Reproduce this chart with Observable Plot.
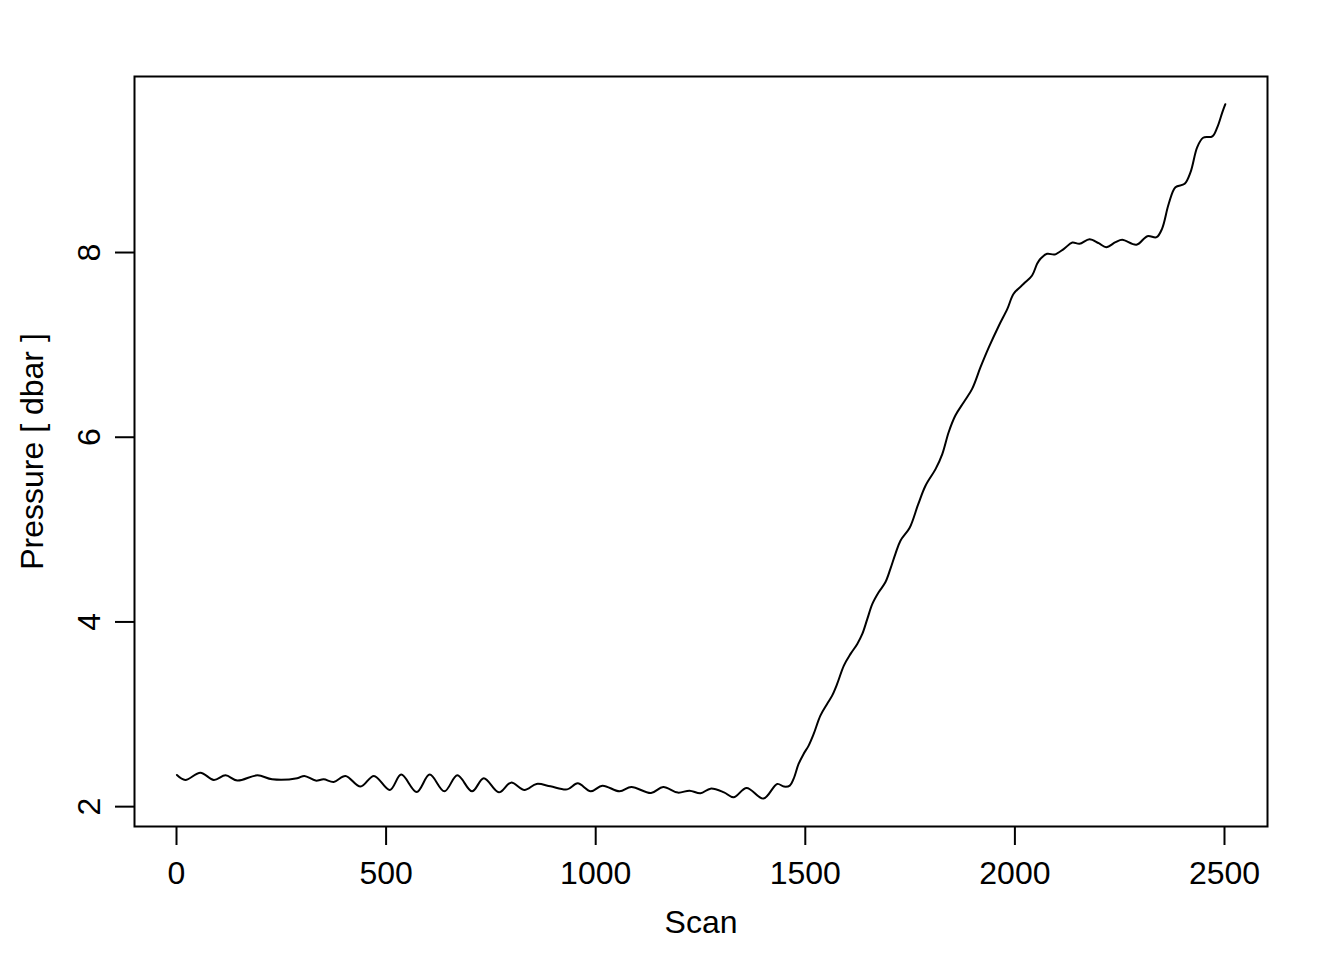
<!DOCTYPE html>
<html>
<head>
<meta charset="utf-8">
<script src="https://cdn.jsdelivr.net/npm/d3@7"></script>
<script src="https://cdn.jsdelivr.net/npm/@observablehq/plot@0.6"></script>
<style>
  html, body { margin: 0; padding: 0; background: #fff; }
</style>
</head>
<body>
<div id="chart"></div>
<script>
const scan = [1, 21, 57, 89, 117, 145, 193, 228, 288, 305, 332, 351, 375, 403, 439, 471, 509, 536, 573, 604, 639, 670, 705,
  733, 769, 798, 830, 859, 892, 932, 957, 988, 1016, 1057, 1085, 1132, 1161, 1196, 1224, 1250, 1274, 1306, 1329, 1360, 1400,
  1433, 1449, 1463, 1472, 1484, 1496, 1508, 1520, 1536, 1552, 1564, 1576, 1592, 1608, 1624, 1636, 1648, 1660, 1675, 1691,
  1703, 1715, 1727, 1749, 1769, 1787, 1811, 1827, 1842, 1858, 1878, 1898, 1918, 1938, 1962, 1982, 1997, 2021, 2041, 2053,
  2061, 2077, 2095, 2117, 2137, 2154, 2178, 2200, 2218, 2240, 2256, 2290, 2316, 2338, 2351, 2367, 2383, 2405, 2419, 2435,
  2449, 2471, 2483, 2495, 2502];
const pressure = [2.343, 2.289, 2.368, 2.289, 2.339, 2.282, 2.339, 2.296, 2.307, 2.333, 2.282, 2.296, 2.268, 2.333, 2.217,
  2.333, 2.181, 2.347, 2.159, 2.347, 2.166, 2.339, 2.166,
  2.307, 2.155, 2.260, 2.181, 2.246, 2.220, 2.187, 2.252, 2.166, 2.227, 2.166, 2.213, 2.148, 2.213, 2.152, 2.173, 2.144,
  2.195, 2.155, 2.101, 2.203, 2.087,
  2.246, 2.217, 2.227, 2.300, 2.462, 2.571, 2.661, 2.787, 2.986, 3.112, 3.202, 3.329, 3.527, 3.654, 3.762, 3.870, 4.033,
  4.195, 4.321, 4.429, 4.574, 4.737, 4.880, 5.020, 5.270, 5.477, 5.657, 5.820, 6.054, 6.235, 6.379, 6.524, 6.758, 6.975,
  7.210, 7.390, 7.553, 7.661, 7.751, 7.878, 7.932, 7.986, 7.979, 8.040, 8.108, 8.094, 8.144, 8.101, 8.058, 8.112, 8.138,
  8.084, 8.177, 8.166, 8.257, 8.528, 8.707, 8.744, 8.870, 9.141, 9.243, 9.257, 9.357, 9.520, 9.606];
const xTicks = [0, 500, 1000, 1500, 2000, 2500];
const yTicks = [2, 4, 6, 8];
const xTitle = "Scan";
const yTitle = "Pressure [ dbar ]";

const data = scan.map((s, i) => ({scan: s, pressure: pressure[i]}));
const font = "'Liberation Sans', Arial, Helvetica, sans-serif";

const chart = Plot.plot({
  width: 1344,
  height: 960,
  marginLeft: 134,
  marginRight: 77,
  marginTop: 76,
  marginBottom: 134,
  style: {fontFamily: font, fontSize: "32px", background: "white", color: "black"},
  x: {domain: [-100.2, 2602.6], axis: null},
  y: {domain: [1.785, 9.906], axis: null},
  marks: [
    Plot.frame({stroke: "black", strokeWidth: 2}),
    Plot.axisX({ticks: xTicks, tickSize: 19, tickFormat: () => "", label: null, strokeWidth: 2, stroke: "black"}),
    Plot.axisY({ticks: yTicks, tickSize: 19, tickFormat: () => "", label: null, strokeWidth: 2, stroke: "black"}),
    Plot.text(xTicks, {x: d => d, text: d => String(d), frameAnchor: "bottom", dy: 57, lineAnchor: "bottom", fontSize: 32, fill: "black"}),
    Plot.text(yTicks, {y: d => d, text: d => String(d), frameAnchor: "left", dx: -35, rotate: -90, textAnchor: "middle", lineAnchor: "bottom", fontSize: 32, fill: "black"}),
    Plot.text([xTitle], {text: d => d, frameAnchor: "bottom", dy: 106, lineAnchor: "bottom", fontSize: 32, fill: "black"}),
    Plot.text([yTitle], {text: d => d, frameAnchor: "left", dx: -92, rotate: -90, textAnchor: "middle", lineAnchor: "bottom", fontSize: 32, fill: "black"}),
    Plot.line(data, {x: "scan", y: "pressure", curve: "catmull-rom", stroke: "black", strokeWidth: 2})
  ]
});
document.getElementById("chart").appendChild(chart);
</script>
</body>
</html>
